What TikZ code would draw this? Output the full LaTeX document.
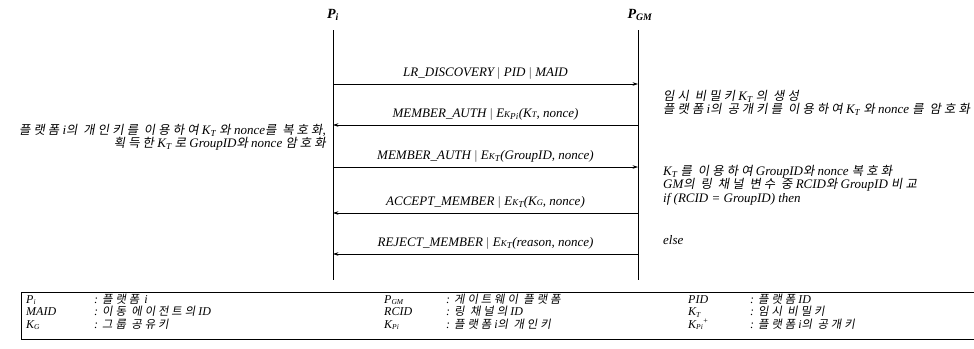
\documentclass[tikz,border=0pt]{standalone}
\usepackage{fontspec}
\setmainfont{Liberation Serif}
\newfontfamily\krfont{Noto Sans CJK KR}[FakeSlant=0.18,Scale=0.95,LetterSpace=25]
\newcommand\kr[1]{{\krfont\upshape #1}}
\newcommand\sK{{\fontsize{9}{10}\selectfont K}}
\newcommand\sX[1]{{\fontsize{8.5}{10}\selectfont #1}}
\newcommand\lsub[1]{\raisebox{-1.5pt}{\fontsize{7.5}{8}\selectfont #1}}
\usetikzlibrary{arrows.meta}

\begin{document}
\begin{tikzpicture}[x=1pt,y=-1pt,
  txt/.style={font=\itshape\fontsize{13}{13.5}\selectfont, inner sep=0pt},
  head/.style={font=\bfseries\itshape\fontsize{14}{15}\selectfont, inner sep=0pt},
  msg/.style={-{Stealth[length=5.5pt,width=3.6pt]}, line width=0.6pt},
  life/.style={line width=0.7pt},
  notel/.style={txt, align=left, anchor=north west},
  noter/.style={txt, align=right, anchor=north east},
  sym/.style={font=\itshape\fontsize{12}{12}\selectfont, inner sep=0pt, anchor=base west},
  frame/.style={line width=0.9pt}]
\path[use as bounding box, fill=white] (0,0) rectangle (974,348);

% participants
\node[head] (Pi) at (333,15) {P\textsubscript{i}};
\node[head] (PGM) at (640,15) {P\textsubscript{GM}};
\coordinate (PiTop) at (333,30);  \coordinate (PiBot) at (333,280);
\coordinate (GMTop) at (638,30);  \coordinate (GMBot) at (638,280);
\draw[life] (PiTop) -- (PiBot);
\draw[life] (GMTop) -- (GMBot);

% message end points
\foreach \n/\y in {1/84,2/125,3/167,4/213,5/254}{
  \coordinate (L\n) at (333,\y);
  \coordinate (R\n) at (638,\y);
}

\draw[msg] (L1) -- node[txt, above=4pt] {LR\_DISCOVERY $|$ PID $|$ MAID} (R1);
\draw[msg] (R2) -- node[txt, above=4pt] {MEMBER\_AUTH $|$ E\sK\textsubscript{Pi}(K\sX{T}, nonce)} (L2);
\draw[msg] (L3) -- node[txt, above=4pt] {MEMBER\_AUTH $|$ E\sK\textsubscript{T}(GroupID, nonce)} (R3);
\draw[msg] (R4) -- node[txt, above=4pt] {ACCEPT\_MEMBER $|$ E\sK\textsubscript{T}(K\sX{G}, nonce)} (L4);
\draw[msg] (R5) -- node[txt, above=4pt] {REJECT\_MEMBER $|$ E\sK\textsubscript{T}(reason, nonce)} (L5);

% processing notes
\node[notel] (n1) at (663,90) {\kr{임시 비밀키} K\textsubscript{T} \kr{의 생성}\\
  \kr{플랫폼} i\kr{의 공개키를 이용하여} K\textsubscript{T} \kr{와} nonce \kr{를 암호화}};
\node[noter] (n2) at (326,124) {\kr{플랫폼} i\kr{의 개인키를 이용하여} K\textsubscript{T} \kr{와} nonce\kr{를 복호화},\\
  \kr{획득한} K\textsubscript{T} \kr{로} GroupID\kr{와} nonce \kr{암호화}};
\node[notel] (n3) at (663,165) {K\textsubscript{T} \kr{를 이용하여} GroupID\kr{와} nonce \kr{복호화}\\
  GM\kr{의 링 채널 변수 중} RCID\kr{와} GroupID \kr{비교}\\
  if (RCID = GroupID) then};
\node[notel] (n4) at (663,235) {else};

% legend
\coordinate (FTL) at (21,292); \coordinate (FTR) at (974,292);
\coordinate (FBL) at (21,339); \coordinate (FBR) at (974,339);
\draw[frame] (FTR) -- (FTL);
\draw[line width=0.5pt] (FTL) -- (FBL);
\draw[frame] (FBL) -- (FBR);

\node[sym] (s1) at (26,303) {P\lsub{i}};
\node[sym] (d1) at (94,303) {: \kr{플랫폼}\, i};
\node[sym] (s2) at (26,315.5) {MAID};
\node[sym] (d2) at (94,315.5) {: \kr{이동 에이전트의} ID};
\node[sym] (s3) at (26,328) {K\lsub{G}};
\node[sym] (d3) at (94,328) {: \kr{그룹 공유키}};

\node[sym] (s4) at (384,303) {P\lsub{GM}};
\node[sym] (d4) at (446,303) {: \kr{게이트웨이 플랫폼}};
\node[sym] (s5) at (384,315.5) {RCID};
\node[sym] (d5) at (446,315.5) {: \kr{링 채널의} ID};
\node[sym] (s6) at (384,328) {K\lsub{Pi}};
\node[sym] (d6) at (446,328) {: \kr{플랫폼} i\kr{의 개인키}};

\node[sym] (s7) at (688,303) {PID};
\node[sym] (d7) at (750,303) {: \kr{플랫폼} ID};
\node[sym] (s8) at (688,315.5) {K\lsub{T}};
\node[sym] (d8) at (750,315.5) {: \kr{임시 비밀키}};
\node[sym] (s9) at (688,328) {K\lsub{Pi}\textsuperscript{+}};
\node[sym] (d9) at (750,328) {: \kr{플랫폼} i\kr{의 공개키}};
\end{tikzpicture}
\end{document}
